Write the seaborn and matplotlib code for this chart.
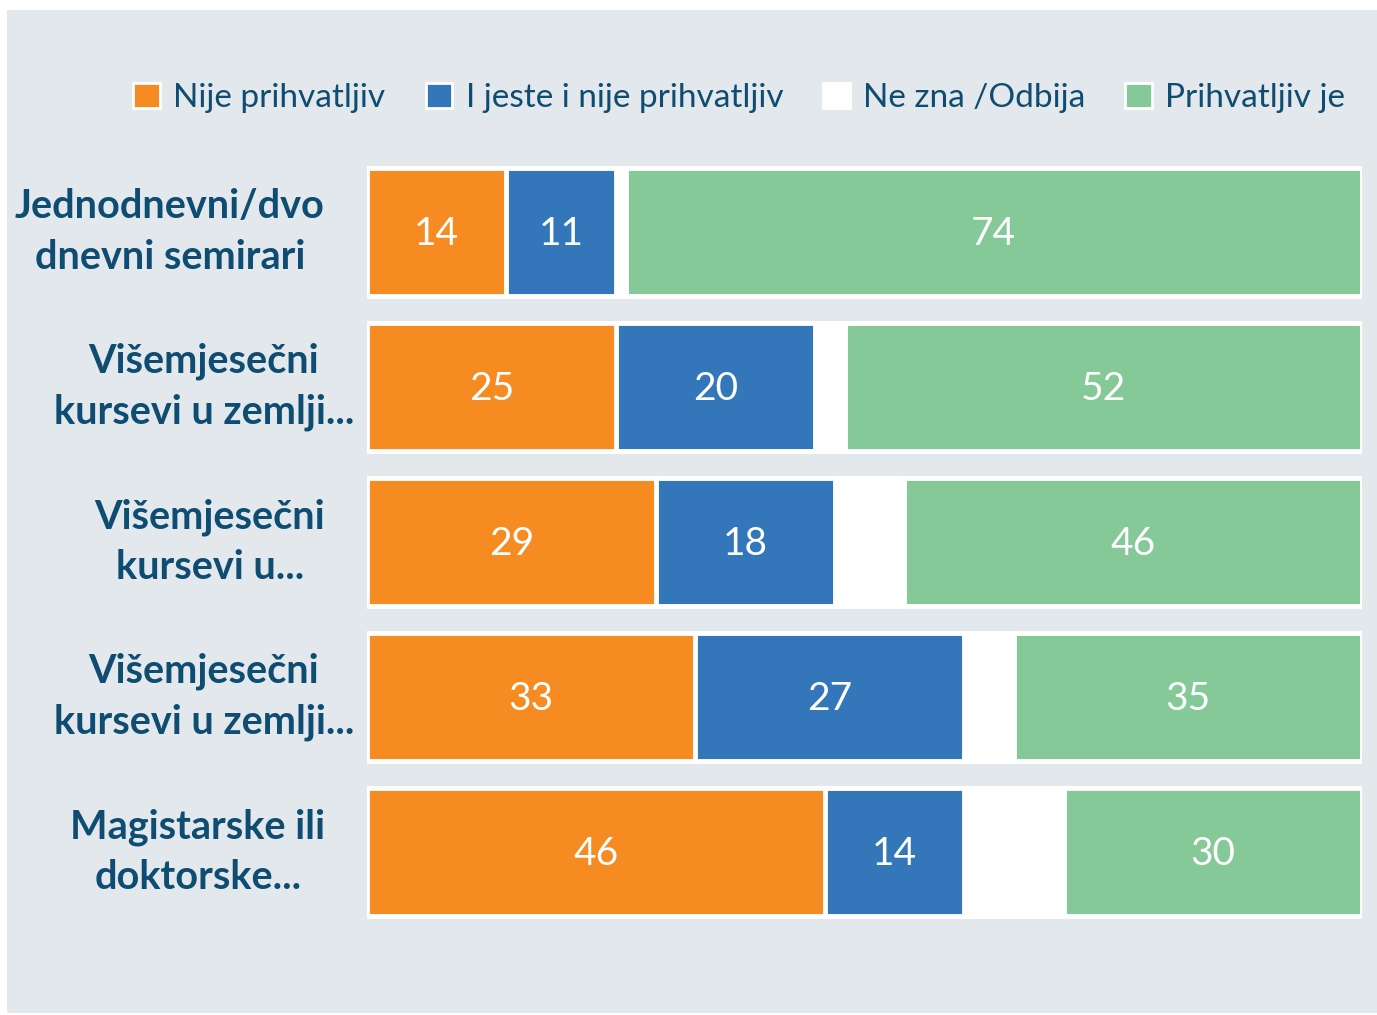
import numpy as np
import pandas as pd
import matplotlib.pyplot as plt
import seaborn as sns
from matplotlib.patches import Patch, Rectangle
from matplotlib.transforms import blended_transform_factory

# Data
categories = [
    "Jednodnevni/dvo\ndnevni semirari",
    "Višemjesečni\nkursevi u zemlji...",
    "Višemjesečni\nkursevi u...",
    "Višemjesečni\nkursevi u zemlji...",
    "Magistarske ili\ndoktorske...",
]
series_names = ["Nije prihvatljiv", "I jeste i nije prihvatljiv", "Ne zna /Odbija", "Prihvatljiv je"]
nije = [14, 25, 29, 33, 46]
jeste_nije = [11, 20, 18, 27, 14]
ne_zna = [1, 3, 7, 5, 10]
prihvatljiv = [74, 52, 46, 35, 30]

colors = ["#F68B21", "#3476BA", "#FFFFFF", "#84C997"]
bg = "#E3E8EC"
text_dark = "#0E4C72"

# horizontal centre (in pixels) of each category label block
label_centres = [170, 204, 210, 204, 198]

sns.set_theme(style="white")
plt.rcParams["font.family"] = ["Lato", "DejaVu Sans"]

series = [nije, jeste_nije, ne_zna, prihvatljiv]
df = pd.DataFrame({"kat": range(len(categories))})
for name, vals in zip(series_names, series):
    df[name] = vals
cum = df[series_names].cumsum(axis=1)

W, H = 1377, 1015
fig = plt.figure(figsize=(W / 100, H / 100), dpi=100)
fig.patch.set_facecolor("white")
fig.patches.append(Rectangle((7 / W, 2 / H), 1 - 7 / W, 1 - 12 / H,
                             transform=fig.transFigure, facecolor=bg, edgecolor="none", zorder=-5))
ax = fig.add_axes([367 / W, 1 - 929.5 / H, (1362 - 367) / W, 775 / H])
ax.set_facecolor("none")

# stacked bars drawn as overlapping cumulative bars, widest first
df["y"] = [str(i) for i in range(len(categories))]
for i in range(len(series_names) - 1, -1, -1):
    sns.barplot(x=cum[series_names[i]], y=df["y"], color=colors[i], orient="h",
                width=0.83, edgecolor="white", linewidth=3.5, saturation=1, ax=ax)

# value labels
for r in range(len(categories)):
    left = 0
    for i, name in enumerate(series_names):
        v = df.loc[r, name]
        if i != 2:
            ax.text(left + v / 2, r + 0.01, f"{v}", ha="center", va="center",
                    color="white", fontsize=28)
        left += v

ax.set_xlim(0, 100)
ax.set_ylim(len(categories) - 0.5, -0.5)
ax.set_xlabel("")
ax.set_ylabel("")
ax.set_xticks([])
ax.set_yticks(range(len(categories)))
ax.set_yticklabels([])
ax.tick_params(axis="y", length=0)
sns.despine(ax=ax, left=True, bottom=True)

# category labels, centred blocks left of the bars
trans = blended_transform_factory(fig.transFigure, ax.transData)
for r, (lab, xc) in enumerate(zip(categories, label_centres)):
    ax.text(xc / W, r, lab, transform=trans, ha="center", va="center",
            multialignment="center", fontsize=28.5, fontweight="bold",
            color=text_dark, linespacing=1.45, clip_on=False)

handles = [Patch(facecolor=c, edgecolor="white", linewidth=2) for c in colors]
fig.legend(handles, series_names, loc="center", bbox_to_anchor=(0.537, 1 - 98 / H),
           ncol=4, frameon=False, fontsize=24, handlelength=0.8, handleheight=0.8,
           handletextpad=0.4, columnspacing=1.2, labelcolor=text_dark)

fig.savefig("out.png", dpi=100, facecolor=fig.get_facecolor())
